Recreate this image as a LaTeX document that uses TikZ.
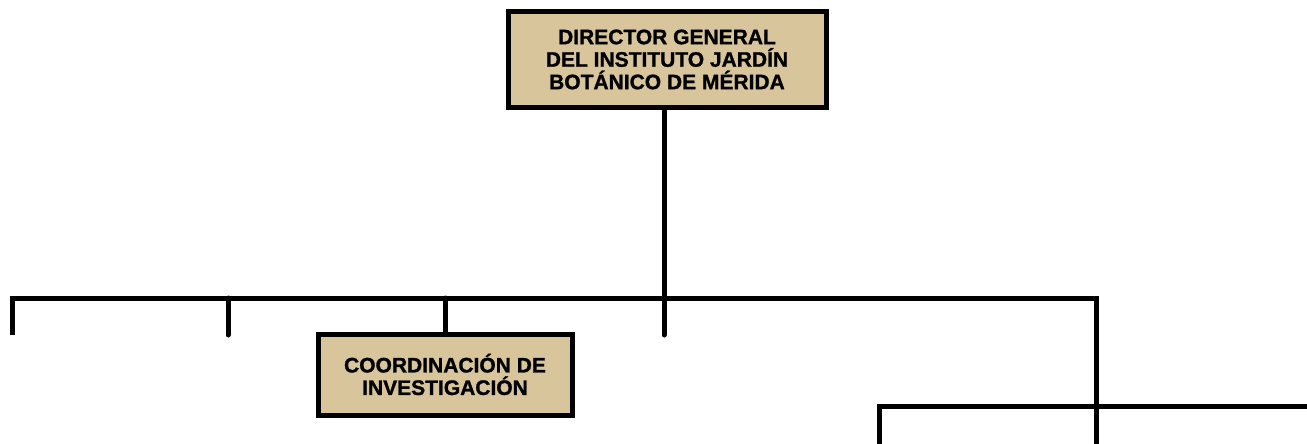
\documentclass[tikz,border=0pt]{standalone}
\usepackage{fontspec}
\setmainfont{Liberation Sans}[BoldFeatures={FakeBold=1.2}]
\definecolor{tan}{RGB}{217,197,155}
\begin{document}
\begin{tikzpicture}[x=1pt,y=-1pt,
  line width=5pt,
  box/.style={draw=black,fill=tan,line width=5pt,inner sep=0pt,align=center,
    font=\fontsize{21}{22.5}\selectfont\bfseries},
  conn/.style={draw=black,line width=5pt,line cap=round}]
\useasboundingbox (0,0) rectangle (1307,444);
\node[box,minimum width=318pt,minimum height=95pt] (dg) at (667,59.5)
  {DIRECTOR GENERAL\\DEL INSTITUTO JARDÍN\\BOTÁNICO DE MÉRIDA};
\node[box,minimum width=254pt,minimum height=81pt] (ci) at (445,374.5)
  {COORDINACIÓN DE\\INVESTIGACIÓN};
\coordinate (j) at (664,298);
\coordinate (l1) at (12,298);
\coordinate (r1) at (1096,298);
\coordinate (t1) at (12,335);
\coordinate (t2) at (228,335);
\coordinate (t4) at (664,335);
\coordinate (b1) at (1096,446);
\coordinate (l2) at (879,406);
\coordinate (r2) at (1309,406);
\coordinate (b2) at (879,446);
\draw[conn] (dg.south -| j) -- (t4);
\draw[conn,line cap=butt] (t1) -- (l1) -- (r1) -- (b1);
\draw[conn] (t2) -- (228,298);
\draw[conn] (445,298) -- (ci.north);
\draw[conn,line cap=butt] (b2) -- (l2) -- (r2);
\end{tikzpicture}
\end{document}
